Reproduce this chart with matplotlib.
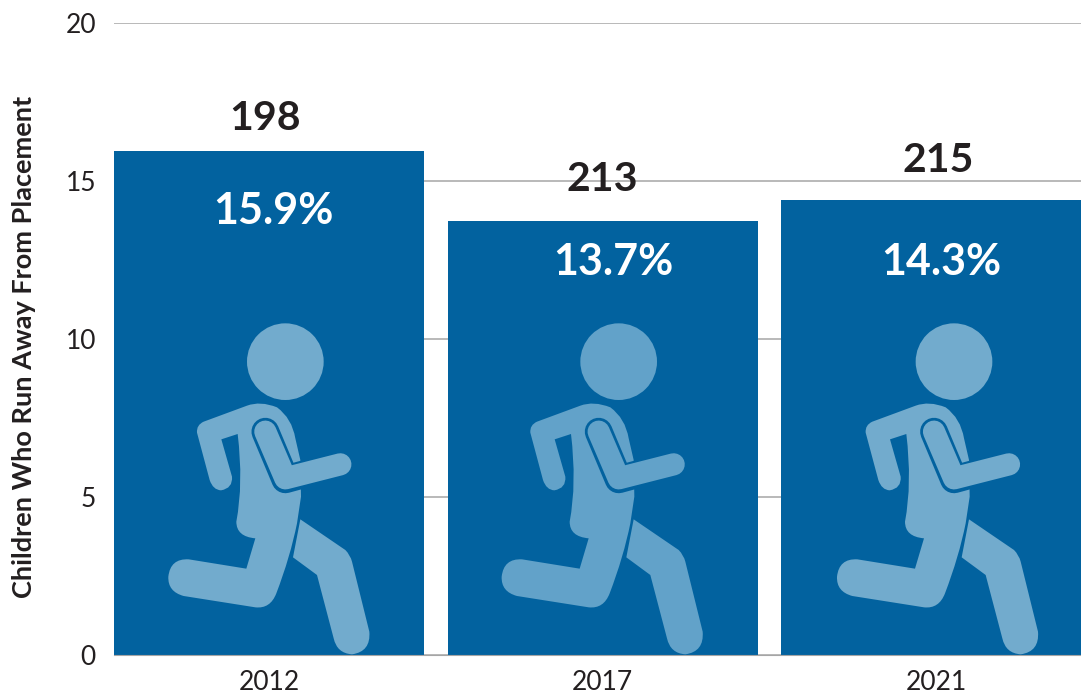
import matplotlib
matplotlib.use('Agg')
import matplotlib.pyplot as plt
from matplotlib.patches import PathPatch, Circle
from matplotlib.path import Path
from matplotlib.transforms import Affine2D

years = ['2012', '2017', '2021']
bar_values = [15.95, 13.75, 14.4]
percent_labels = ['15.9%', '13.7%', '14.3%']
count_labels = ['198', '213', '215']
y_ticks = [0, 5, 10, 15, 20]

plt.rcParams['font.family'] = ['Lato', 'DejaVu Sans']

M, L, Q = Path.MOVETO, Path.LINETO, Path.CURVE3


def make_path(steps):
    verts, codes = [], []
    for step in steps:
        if len(step) == 2:
            verts.append(step)
            codes.append(L if verts[:-1] else M)
        else:
            verts += [step[:2], step[2:]]
            codes += [Q, Q]
    verts.append(verts[0])
    codes.append(Path.CLOSEPOLY)
    return Path(verts, codes)


# runner icon, coordinates in 1/3 px relative to top left of the icon box
body = make_path([(140, 368), (138, 345, 160, 335), (290, 287), (330, 272, 380, 292),
                  (425, 325, 435, 385), (450, 450), (452, 560), (440, 640), (420, 740, 378, 850),
                  (360, 897, 315, 892), (100, 858), (52, 845, 54, 800), (60, 745, 115, 748),
                  (288, 776), (315, 685), (258, 680, 258, 635), (280, 520, 262, 372),
                  (213, 388), (245, 500), (248, 535, 212, 541), (188, 540, 178, 510)])
rear_leg = make_path([(450, 628), (585, 720), (600, 735, 605, 755), (657, 965), (662, 1025, 605, 1033),
                      (560, 1030, 550, 985), (500, 795), (428, 742)])
front_arm_outline = Path([(345, 365), (405, 508), (570, 463)], [M, L, L])
front_arm = Path([(345, 365), (405, 505), (570, 463)], [M, L, L])

fig = plt.figure(figsize=(10.81, 6.94), dpi=100)
ax = fig.add_axes([114 / 1081, 1 - 655 / 694, (1081 - 114) / 1081, (655 - 23) / 694])

blue = '#02629F'
ax.bar(years, bar_values, width=0.93, color=blue, zorder=2)
ax.set_xlim(-0.466, 2.435)
ax.set_ylim(0, 20)
ax.set_yticks(y_ticks)
ax.grid(axis='y', color='#A6A6A6', linewidth=1.1, zorder=0)
ax.set_axisbelow(True)
for s in ['top', 'right', 'left']:
    ax.spines[s].set_visible(False)
ax.spines['bottom'].set_color('#A6A6A6')
ax.tick_params(axis='both', length=0, labelsize=19, labelcolor='#231F20')
ax.tick_params(axis='y', pad=13)
ax.tick_params(axis='x', pad=11)
ax.set_ylabel('Children Who Run Away From Placement', fontsize=19.5, fontweight='bold',
              color='#231F20', labelpad=21)
ax.yaxis.label.set_y(0.488)

count_x = [-0.013, 0.0, 0.007]
count_y = [16.99, 15.04, 15.64]
pct_x = [0.012, 0.033, 0.015]
pct_y = [14.06, 12.44, 12.44]
icon_colors = ['#72ABCD', '#62A2C9', '#72ABCD']
icon_shift = [0, 0, 2]
for i in range(3):
    ax.text(i + count_x[i], count_y[i], count_labels[i], ha='center', va='center', fontsize=29.5,
            fontweight='bold', color='#231F20', zorder=4)
    ax.text(i + pct_x[i], pct_y[i], percent_labels[i], ha='center', va='center', fontsize=31,
            fontweight='bold', color='white', zorder=4)
    # icon box top left sits 119 px left of the bar centre, 345 px above the axis
    cx, cy = ax.transData.transform((i, 0))
    tr = Affine2D().scale(1 / 3, -1 / 3).translate(cx - 119 + icon_shift[i], cy + 345)
    c = icon_colors[i]
    ax.add_patch(PathPatch(body, fc=c, ec='none', transform=tr, zorder=3))
    ax.add_patch(PathPatch(rear_leg, fc=c, ec='none', transform=tr, zorder=3))
    ax.add_patch(PathPatch(front_arm_outline, fc='none', ec=blue, lw=20, capstyle='round',
                           joinstyle='round', transform=tr, zorder=3))
    ax.add_patch(PathPatch(front_arm, fc='none', ec=c, lw=16, capstyle='round',
                           joinstyle='round', transform=tr, zorder=3))
    ax.add_patch(Circle((405, 155), 115, fc=c, ec='none', transform=tr, zorder=3))

fig.savefig('out.png', dpi=100)
